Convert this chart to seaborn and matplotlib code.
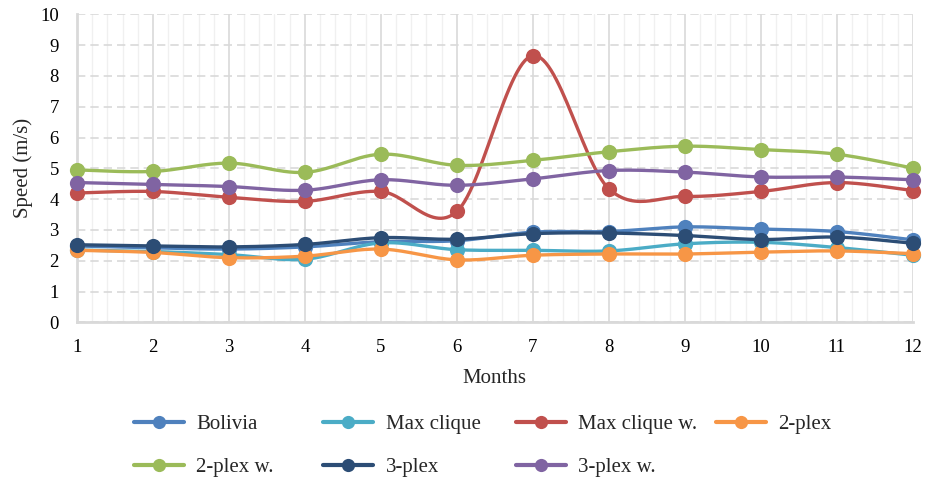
import numpy as np
import pandas as pd
import seaborn as sns
import matplotlib.pyplot as plt
from matplotlib.lines import Line2D

months = list(range(1, 13))
bolivia = [2.48, 2.42, 2.38, 2.45, 2.62, 2.65, 2.93, 2.95, 3.10, 3.03, 2.95, 2.68]
max_clique = [2.35, 2.30, 2.20, 2.05, 2.58, 2.36, 2.34, 2.32, 2.55, 2.60, 2.43, 2.18]
max_clique_w = [4.20, 4.25, 4.06, 3.93, 4.25, 3.60, 8.66, 4.34, 4.09, 4.25, 4.54, 4.28]
two_plex = [2.34, 2.27, 2.10, 2.15, 2.38, 2.03, 2.18, 2.22, 2.22, 2.28, 2.32, 2.23]
two_plex_w = [4.95, 4.90, 5.17, 4.87, 5.46, 5.10, 5.26, 5.54, 5.72, 5.61, 5.46, 5.01]
three_plex = [2.52, 2.48, 2.45, 2.53, 2.75, 2.70, 2.88, 2.90, 2.82, 2.69, 2.77, 2.57]
three_plex_w = [4.54, 4.48, 4.41, 4.29, 4.63, 4.45, 4.66, 4.93, 4.88, 4.72, 4.72, 4.63]

names = ["Bolivia", "Max clique", "Max clique w.", "2-plex", "2-plex w.", "3-plex", "3-plex w."]
colors = ["#4F81BD", "#4BACC6", "#C0504D", "#F79646", "#9BBB59", "#2C4D75", "#8064A2"]
series = [bolivia, max_clique, max_clique_w, two_plex, two_plex_w, three_plex, three_plex_w]

df = pd.DataFrame({n: s for n, s in zip(names, series)})
df["Month"] = months


def smooth(x, y, n=30):
    # bezier smoothing like the excel "smoothed line" option
    x = np.asarray(x, float)
    y = np.asarray(y, float)
    xs, ys = [], []
    t = np.linspace(0, 1, n)
    for i in range(len(x) - 1):
        p0 = i - 1 if i > 0 else i
        p3 = i + 2 if i + 2 < len(x) else i + 1
        c1x = x[i] + (x[i + 1] - x[p0]) / 6
        c1y = y[i] + (y[i + 1] - y[p0]) / 6
        c2x = x[i + 1] - (x[p3] - x[i]) / 6
        c2y = y[i + 1] - (y[p3] - y[i]) / 6
        xs.append((1 - t)**3 * x[i] + 3 * (1 - t)**2 * t * c1x + 3 * (1 - t) * t**2 * c2x + t**3 * x[i + 1])
        ys.append((1 - t)**3 * y[i] + 3 * (1 - t)**2 * t * c1y + 3 * (1 - t) * t**2 * c2y + t**3 * y[i + 1])
    return np.concatenate(xs), np.concatenate(ys)


sns.set_style("white")
plt.rcParams['font.family'] = ['Liberation Serif', 'DejaVu Serif']

fig = plt.figure(figsize=(9.25, 4.79), dpi=100)
ax = fig.add_axes([0.0832, 0.327, 0.9035, 0.643])

for k, (name, col) in enumerate(zip(names, colors)):
    sx, sy = smooth(df["Month"], df[name])
    ax.plot(sx, sy, color=col, lw=2.4, zorder=3 + 2 * k, clip_on=False, solid_capstyle='round')
    sns.scatterplot(x="Month", y=name, data=df, color=col, s=120, linewidth=0,
                    ax=ax, zorder=4 + 2 * k, clip_on=False, legend=False)

ax.set_xlim(1, 12)
ax.set_ylim(0, 10)
ax.set_xticks(months)
ax.set_xticks(np.arange(1, 12.001, 0.2), minor=True)
ax.set_yticks(range(0, 11))
ax.grid(which='major', axis='x', color='#D9D9D9', lw=1.2)
ax.grid(which='minor', axis='x', color='#F0F0F0', lw=1.0)
ax.grid(which='major', axis='y', color='#D9D9D9', lw=1.2, ls=(0, (5, 3)))
ax.set_axisbelow(True)
ax.tick_params(which='both', length=0, labelsize=13.5, colors='black')
ax.tick_params(axis='y', pad=13)
ax.tick_params(axis='x', pad=12)
for s in ['top', 'right']:
    ax.spines[s].set_visible(False)
for s in ['left', 'bottom']:
    ax.spines[s].set_color('#D9D9D9')
    ax.spines[s].set_linewidth(2)

ax.set_xlabel("Months", fontsize=15, labelpad=9)
ax.set_ylabel("Speed (m/s)", fontsize=15, labelpad=5)

# excel legend: fixed-width columns, filled row by row
legend_cols = [[0, 4], [1, 5], [2, 6], [3]]
col_x = [134, 323, 516, 716]
for idx, x0 in zip(legend_cols, col_x):
    handles = [Line2D([0], [0], color=colors[i], lw=3, marker='o', markersize=9.5, markeredgewidth=0)
               for i in idx]
    fig.legend(handles, [names[i] for i in idx], loc='upper left',
               bbox_to_anchor=(x0 / 925, 0.134), ncol=1, frameon=False, fontsize=15,
               handlelength=2.4, handletextpad=0.6, labelspacing=1.1,
               borderpad=0, borderaxespad=0)

plt.savefig("out.png", dpi=100)
